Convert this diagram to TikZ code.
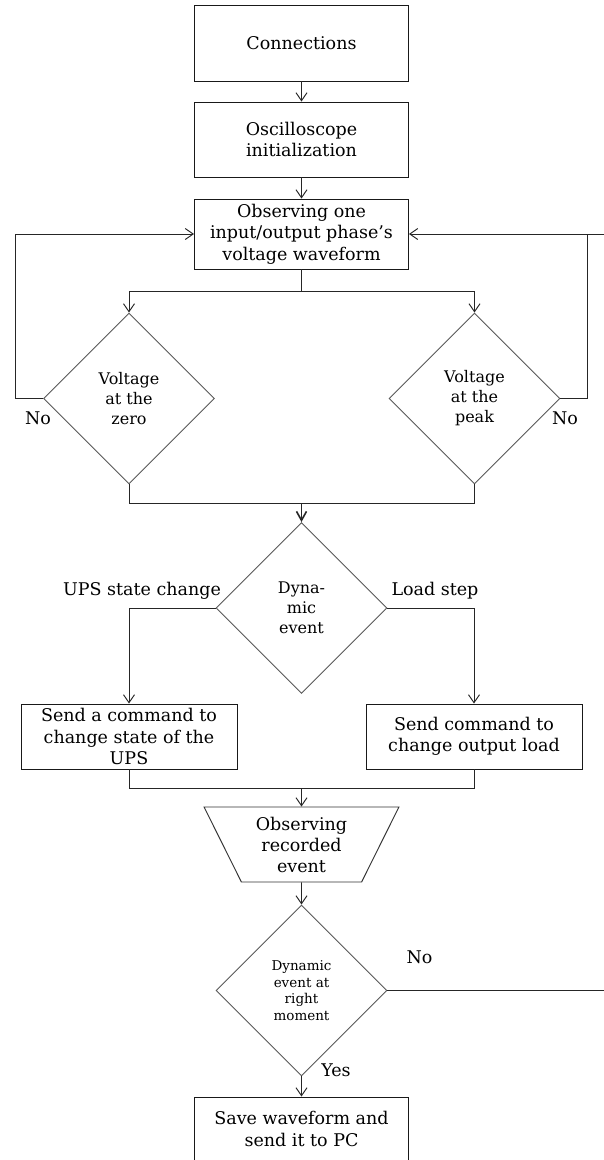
\documentclass[tikz,border=0pt]{standalone}
\usepackage{fontspec}
\setmainfont{DejaVu Serif}
\usetikzlibrary{arrows.meta,shapes.geometric}
\begin{document}
\begin{tikzpicture}[x=1pt,y=-1pt,
  line width=0.95pt,
  box/.style={draw=black!90, rectangle, minimum width=214pt, inner sep=0pt,
    align=center, font=\fontsize{17.5}{21.5}\selectfont},
  decision/.style={draw=black!65, diamond, aspect=1, minimum width=171pt,
    minimum height=171pt, inner sep=0pt, align=center,
    font=\fontsize{16}{20}\selectfont},
  io/.style={draw=black!80, trapezium, shape border rotate=180,
    trapezium left angle=63, trapezium right angle=63, trapezium stretches=true,
    minimum width=195pt, minimum height=75pt, inner sep=0pt, align=center,
    font=\fontsize{17.5}{21}\selectfont},
  link/.style={draw=black!85},
  arr/.style={link, -{Straight Barb[length=8pt,width=11pt]}},
  boldarr/.style={link, line width=1.5pt, -{Straight Barb[length=9pt,width=10pt,line width=1.6pt]}},
  lbl/.style={font=\fontsize{17.5}{20}\selectfont, inner sep=0pt}
]
\clip (0,0) rectangle (604,1160);
\fill[white] (0,0) rectangle (604,1160);

% process steps
\node[box, minimum height=76pt] (conn) at (301.5,43) {Connections};
\node[box, minimum height=75pt] (osc) at (301.5,139.5) {Oscilloscope\\initialization};
\node[box, minimum height=70pt] (obs) at (301.5,234) {Observing one\\input/output phase’s\\voltage waveform};
\node[decision] (zero) at (129,398.5) {Voltage\\at the\\zero};
\node[decision] (peak) at (474.5,398.5) {Voltage\\at the\\peak};
\node[decision] (dyn) at (301.5,608) {Dyna-\\mic\\event};
\node[box, minimum width=216pt, minimum height=65pt] (ups) at (129,736.5) {Send a command to\\change state of the\\UPS};
\node[box, minimum width=216pt, minimum height=65pt] (load) at (474,736.5) {Send command to\\change output load};
\node[io] (rec) at (301.5,844.5) {Observing\\recorded\\event};
\node[decision, font=\fontsize{13.5}{16.7}\selectfont] (moment) at (301.5,990.5) {Dynamic\\event at\\right\\moment};
\node[box, minimum height=64pt] (save) at (301.5,1129) {Save waveform and\\send it to PC};

% junction points
\coordinate (split) at (301.5,291);
\coordinate (join) at (301.5,503);
\coordinate (merge) at (301.5,788);
\coordinate (loopL) at (15.5,398.5);
\coordinate (loopR) at (587.4,398.5);
\coordinate (edgeB) at (612,990.5);

% connectors
\draw[arr] (conn) -- (osc);
\draw[arr] (osc) -- (obs);
\draw[link] (obs.south) -- (split);
\draw[arr] (split) -| (zero.north);
\draw[arr] (split) -| (peak.north);
\draw[arr] (zero.west) -- (loopL) |- (obs.west);
\draw[link] (peak.east) -- (loopR) -- (loopR |- obs.east);
\draw[arr] (moment.east) -- (edgeB) |- (obs.east);
\draw[link] (zero.south) |- (join);
\draw[link] (peak.south) |- (join);
\draw[boldarr] (join) -- (dyn.north);
\draw[arr] (dyn.west) -| (ups.north);
\draw[arr] (dyn.east) -| (load.north);
\draw[link] (ups.south) |- (merge);
\draw[link] (load.south) |- (merge);
\draw[arr] (merge) -- (rec.north);
\draw[arr] (rec.south) -- (moment.north);
\draw[arr] (moment.south) -- (save.north);

% branch labels
\node[lbl] (noL) at (38,418) {No};
\node[lbl] (noR) at (565,418) {No};
\node[lbl] (noB) at (419.5,957) {No};
\node[lbl] (yes) at (336,1070) {Yes};
\node[lbl] (upsL) at (142,591) {UPS state change};
\node[lbl] (loadL) at (435,591) {Load step};
\end{tikzpicture}
\end{document}
